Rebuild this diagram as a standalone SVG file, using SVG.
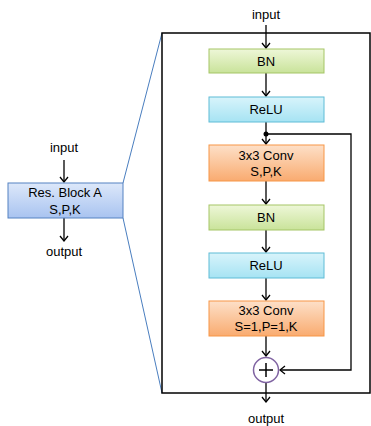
<svg xmlns="http://www.w3.org/2000/svg" width="371" height="426" viewBox="0 0 371 426">
<defs>
<linearGradient id="gG" x1="0" y1="0" x2="0" y2="1"><stop offset="0" stop-color="#eef7d8"/><stop offset="1" stop-color="#c9e39a"/></linearGradient>
<linearGradient id="gC" x1="0" y1="0" x2="0" y2="1"><stop offset="0" stop-color="#d8f4fb"/><stop offset="1" stop-color="#a6e3f3"/></linearGradient>
<linearGradient id="gO" x1="0" y1="0" x2="0" y2="1"><stop offset="0" stop-color="#fde0c8"/><stop offset="1" stop-color="#f9ab70"/></linearGradient>
<linearGradient id="gB" x1="0" y1="0" x2="0" y2="1"><stop offset="0" stop-color="#dde8fa"/><stop offset="1" stop-color="#a8c3f0"/></linearGradient>
<marker id="ar" markerWidth="10" markerHeight="10" refX="9" refY="5" orient="auto" markerUnits="userSpaceOnUse" viewBox="0 0 10 10">
<polyline points="4,1 9,5 4,9" fill="none" stroke="#000" stroke-width="1.3"/>
</marker>
</defs>
<style>
text{font-family:"Liberation Sans",Arial,sans-serif;font-size:13px;fill:#000;text-anchor:middle}
.g{fill:url(#gG);stroke:#a5c566;stroke-width:1}
.c{fill:url(#gC);stroke:#5fbcd6;stroke-width:1}
.o{fill:url(#gO);stroke:#f79646;stroke-width:1}
.b{fill:url(#gB);stroke:#5582c2;stroke-width:1}
.ln{fill:none;stroke:#000;stroke-width:1.3}
.bl{fill:none;stroke:#4a7ebf;stroke-width:1}
</style>
<g id="zoomlines">
<line class="bl" x1="123" y1="183" x2="162" y2="33"/>
<line class="bl" x1="123" y1="218" x2="162" y2="393"/>
</g>
<g id="container"><rect x="162" y="33" width="208" height="360" fill="#fff" stroke="#000" stroke-width="1.5"/></g>
<g id="connectors">
<line class="ln" x1="64" y1="160" x2="64" y2="182" marker-end="url(#ar)"/>
<line class="ln" x1="64" y1="218" x2="64" y2="241" marker-end="url(#ar)"/>
<line class="ln" x1="266" y1="25" x2="266" y2="48" marker-end="url(#ar)"/>
<line class="ln" x1="266" y1="73" x2="266" y2="96" marker-end="url(#ar)"/>
<line class="ln" x1="266" y1="122" x2="266" y2="144" marker-end="url(#ar)"/>
<circle cx="266" cy="134" r="2.5" fill="#000"/>
<polyline class="ln" points="266,134 351,134 351,370 280,370" marker-end="url(#ar)"/>
<line class="ln" x1="266" y1="181" x2="266" y2="204" marker-end="url(#ar)"/>
<line class="ln" x1="266" y1="230" x2="266" y2="252" marker-end="url(#ar)"/>
<line class="ln" x1="266" y1="278" x2="266" y2="300" marker-end="url(#ar)"/>
<line class="ln" x1="266" y1="336" x2="266" y2="356" marker-end="url(#ar)"/>
<line class="ln" x1="266" y1="383" x2="266" y2="402" marker-end="url(#ar)"/>
</g>
<g id="input-left"><text x="64" y="152">input</text></g>
<g id="resblock"><rect class="b" x="8" y="183" width="115" height="35"/><text x="65" y="197">Res. Block A</text><text x="65" y="214">S,P,K</text></g>
<g id="output-left"><text x="64" y="256">output</text></g>
<g id="input-top"><text x="266" y="19">input</text></g>
<g id="bn1"><rect class="g" x="209" y="49" width="115" height="24"/><text x="266" y="66">BN</text></g>
<g id="relu1"><rect class="c" x="209" y="97" width="115" height="25"/><text x="266" y="114">ReLU</text></g>
<g id="conv1"><rect class="o" x="209" y="145" width="115" height="36"/><text x="266" y="160">3x3 Conv</text><text x="266" y="176">S,P,K</text></g>
<g id="bn2"><rect class="g" x="209" y="205" width="115" height="25"/><text x="266" y="222">BN</text></g>
<g id="relu2"><rect class="c" x="209" y="253" width="115" height="25"/><text x="266" y="270">ReLU</text></g>
<g id="conv2"><rect class="o" x="209" y="301" width="115" height="35"/><text x="266" y="315">3x3 Conv</text><text x="266" y="331">S=1,P=1,K</text></g>
<g id="sum"><circle cx="266" cy="370" r="12.5" fill="#fff" stroke="#8064a2" stroke-width="1.5"/><path d="M259,370 H273 M266,363 V377" stroke="#000" stroke-width="1.5"/></g>
<g id="output-bottom"><text x="266" y="423">output</text></g>
</svg>
